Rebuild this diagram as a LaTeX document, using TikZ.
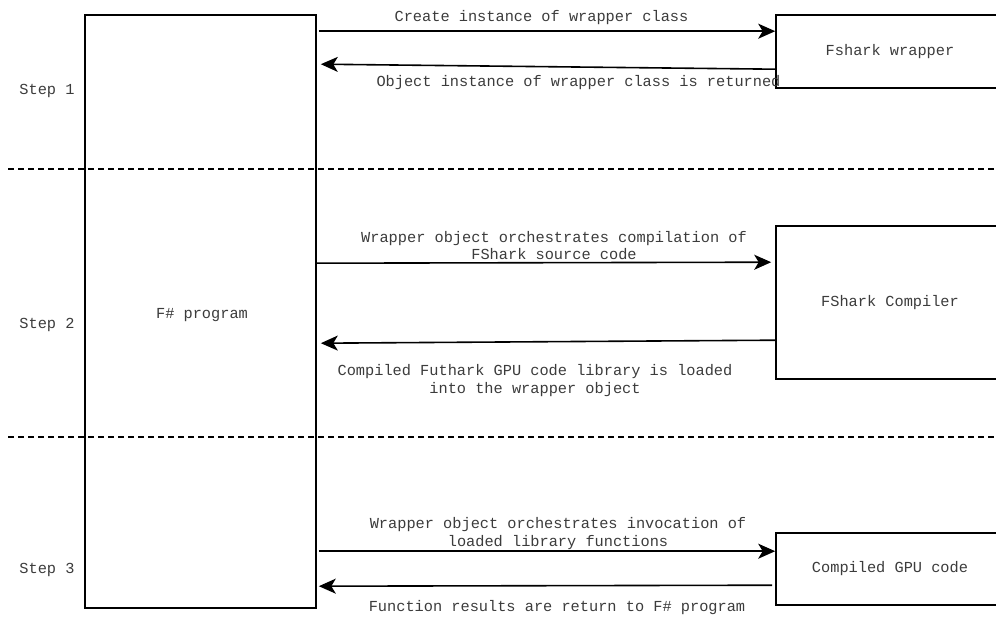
\documentclass[tikz,border=0pt]{standalone}
\usepackage{fontspec}
\setmonofont{Liberation Mono}
\usetikzlibrary{arrows.meta}
\definecolor{txt}{HTML}{3C3C3C}
\begin{document}
\begin{tikzpicture}[x=1pt,y=-1pt,
  every node/.style={font=\ttfamily\fontsize{15.3}{17.5}\selectfont, text=txt, inner sep=0pt},
  box/.style={draw=black, line width=1.6pt, rectangle, fill=none},
  arr/.style={draw=black, line width=1.6pt, -{Stealth[length=17pt,width=15pt,inset=4.5pt]}},
  sep/.style={draw=black, line width=1.5pt, dash pattern=on 6pt off 4pt},
  lbl/.style={align=center}]
\useasboundingbox (0,0) rectangle (996,617);
\clip (0,0) rectangle (996,617);
\fill[white] (0,0) rectangle (996,617);

% dashed separators
\coordinate (s1a) at (8,169);
\coordinate (s1b) at (996,169);
\coordinate (s2a) at (8,437);
\coordinate (s2b) at (996,437);
\draw[sep] (s1a) -- (s1b);
\draw[sep] (s2a) -- (s2b);

% boxes
\node[box, minimum width=231pt, minimum height=593pt] (fsp) at (200.5,311.5) {};
\node (fsptext) at (202,315) {F\# program};
\node[box, fill=white, minimum width=228pt, minimum height=73pt] (wr) at (890,51.5) {Fshark wrapper};
\node[box, fill=white, minimum width=228pt, minimum height=153pt] (comp) at (890,302.5) {FShark Compiler};
\node[box, fill=white, minimum width=228pt, minimum height=72pt] (gpu) at (890,569) {Compiled GPU code};

% step labels
\node (st1) at (47,91) {Step 1};
\node (st2) at (47,324.5) {Step 2};
\node (st3) at (47,569.5) {Step 3};

% arrows
\draw[arr] ([xshift=2pt,yshift=-17pt]fsp.north east) -- ([yshift=-17pt]wr.north west);
\draw[arr] ([yshift=-55pt]wr.north west) -- ([xshift=4pt,yshift=-50pt]fsp.north east);
\draw[arr] ([yshift=-249pt]fsp.north east) -- ([xshift=-4pt,yshift=-37pt]comp.north west);
\draw[arr] ([yshift=-115pt]comp.north west) -- ([xshift=4pt,yshift=-329pt]fsp.north east);
\draw[arr] ([xshift=2pt,yshift=-537pt]fsp.north east) -- ([yshift=-19pt]gpu.north west);
\draw[arr] ([xshift=-3pt,yshift=-53pt]gpu.north west) -- ([xshift=2pt,yshift=-572pt]fsp.north east);

% arrow labels
\node[lbl] (l1) at (541.5,18) {Create instance of wrapper class};
\node[lbl] (l2) at (578.5,82.5) {Object instance of wrapper class is returned};
\node[lbl] (l3) at (554,245.5) {Wrapper object orchestrates compilation of\\FShark source code};
\node[lbl] (l4) at (535,380.5) {Compiled Futhark GPU code library is loaded\\into the wrapper object};
\node[lbl] (l5) at (558,533.5) {Wrapper object orchestrates invocation of\\loaded library functions};
\node[lbl] (l6) at (557,608) {Function results are return to F\# program};
\end{tikzpicture}
\end{document}
